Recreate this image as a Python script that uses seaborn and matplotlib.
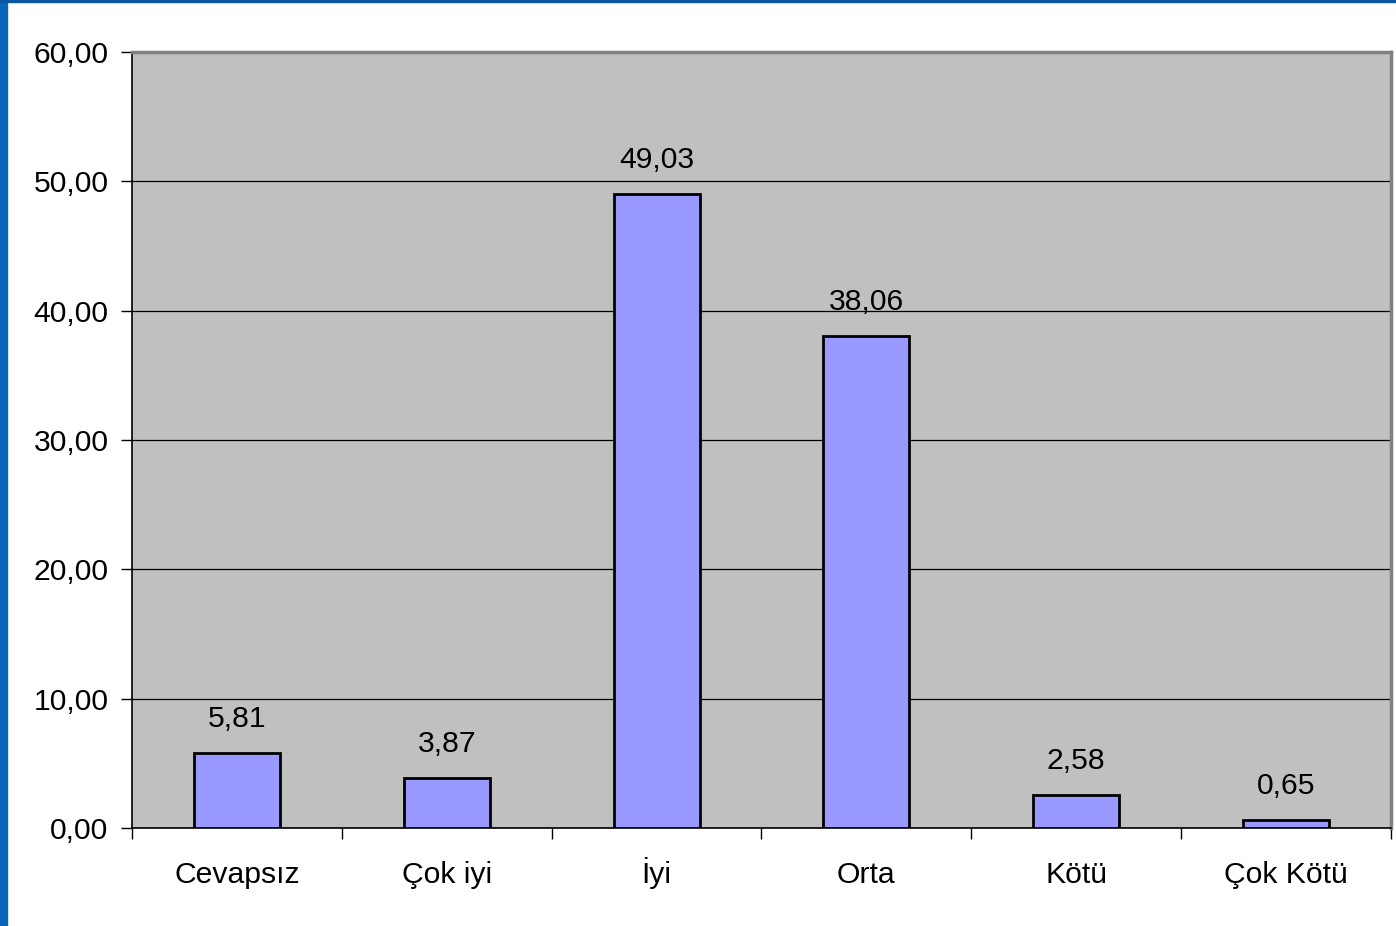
import matplotlib
matplotlib.use("Agg")
import matplotlib.pyplot as plt
import seaborn as sns
import pandas as pd
from matplotlib.patches import Rectangle

categories = ["Cevapsız", "Çok iyi", "İyi", "Orta", "Kötü", "Çok Kötü"]
values = [5.81, 3.87, 49.03, 38.06, 2.58, 0.65]
yticks = [0, 10, 20, 30, 40, 50, 60]

sns.set_theme(style="white")
plt.rcParams['font.family'] = ['Liberation Sans', 'DejaVu Sans']
plt.rcParams['text.color'] = 'black'
plt.rcParams['xtick.color'] = 'black'
plt.rcParams['ytick.color'] = 'black'

FS = 21.7

fig = plt.figure(figsize=(13.96, 9.26), dpi=100)
ax = fig.add_axes([132/1396, 1 - 828/926, (1391-132)/1396, (828-52)/926])
ax.set_facecolor("#C0C0C0")

df = pd.DataFrame({"cat": categories, "val": values})
sns.barplot(data=df, x="cat", y="val", color="#9999FF", saturation=1,
            edgecolor="black", linewidth=2, width=0.41, ax=ax, zorder=3)

ax.set_xlim(-0.5, len(categories) - 0.5)
ax.set_ylim(0, 60)
ax.set_yticks(yticks)
ax.set_yticklabels([f"{v:.2f}".replace(".", ",") for v in yticks], fontsize=FS)
ax.yaxis.grid(True, color="black", linewidth=0.9, zorder=0)
ax.set_axisbelow(True)
ax.set_xlabel("")
ax.set_ylabel("")
ax.set_xticks(range(len(categories)))
ax.set_xticklabels(categories, fontsize=FS, va="baseline")
ax.set_xticks([i + 0.5 for i in range(-1, len(categories))], minor=True)
ax.tick_params(axis="x", which="major", length=0, pad=39.5)
ax.tick_params(axis="x", which="minor", length=8, width=1, color="black", direction="out", bottom=True)
ax.tick_params(axis="y", length=8, width=1, color="black", direction="out", left=True, pad=9)

for s in ["left", "bottom"]:
    ax.spines[s].set_color("black")
    ax.spines[s].set_linewidth(1.2)
for s in ["top", "right"]:
    ax.spines[s].set_color("#808080")
    ax.spines[s].set_linewidth(2.5)
    ax.spines[s].set_visible(True)

for i, v in enumerate(values):
    ax.annotate(f"{v:.2f}".replace(".", ","), xy=(i, v), xytext=(0, 18.5),
                textcoords="offset points", ha="center", va="baseline", fontsize=FS)

# blue frame on left and top
fig.patches.append(Rectangle((0, 0), 7/1396, 1, transform=fig.transFigure, color="#0A66B8", zorder=10))
fig.patches.append(Rectangle((0, 1 - 2/926), 1, 2/926, transform=fig.transFigure, color="#0A56A0", zorder=10))

fig.savefig("out.png", dpi=100)
